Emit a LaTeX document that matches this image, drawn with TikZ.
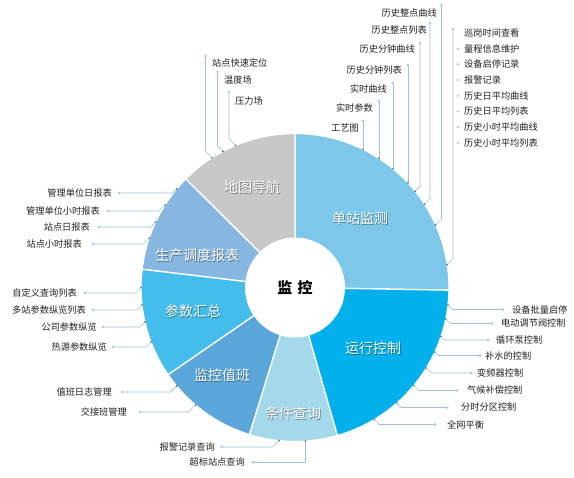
\documentclass[tikz,border=0pt]{standalone}
\usepackage{fontspec}
\setmainfont{Noto Sans CJK SC}
\definecolor{cA}{HTML}{7DC7EA}
\definecolor{cB}{HTML}{C8C8C8}
\definecolor{cC}{HTML}{86B7E0}
\definecolor{cD}{HTML}{45BDEC}
\definecolor{cE}{HTML}{5BA7DA}
\definecolor{cF}{HTML}{A4D8EB}
\definecolor{cG}{HTML}{02B1EC}
\definecolor{leadc}{HTML}{9EC3D6}
\definecolor{dotc}{HTML}{B3D0E0}
\definecolor{cdot}{HTML}{55677A}
\definecolor{txtc}{HTML}{222222}
\newcommand\ldr[4]{%
  \coordinate (#1d) at (#2); \coordinate (#1b) at (#3); \coordinate (#1c) at (#4);
  \draw[lead] (#1d) -- (#1b) -- (#1c);
  \fill[dotc] (#1d) circle[radius=1.6];
  \fill[cdot] (#1c) circle[radius=0.9];}
\newcommand\segment[3]{%
  \filldraw[seg, fill=#1] (O) -- ([shift={(-#2:154)}]O) arc[start angle=-#2, end angle=-#3, radius=154] -- cycle;}
\newcommand\seglabel[3]{%
  \node[segshadow] (#1s) at ([shift={(0.9,0.9)}]#2) {#3};
  \node[segtxt] (#1) at (#2) {#3};}
\begin{document}
\begin{tikzpicture}[x=1pt,y=-1pt,
  lead/.style={draw=leadc, line width=0.6pt},
  lbl/.style={font=\fontsize{9.2}{10}\selectfont, text=txtc, inner sep=0pt},
  seg/.style={draw=white, line width=1.3pt},
  segtxt/.style={font=\fontsize{14}{15}\selectfont, text=white, inner sep=0pt},
  segshadow/.style={font=\fontsize{14}{15}\selectfont, text=black, opacity=0.4, inner sep=0pt}]
\useasboundingbox (0,0) rectangle (574,478);
\fill[white] (0,0) rectangle (574,478);
\coordinate (O) at (295,287.5);
% pie
\segment{cA}{-1}{90}
\segment{cB}{90}{135.2}
\segment{cC}{135.2}{173.2}
\segment{cD}{173.2}{214.5}
\segment{cE}{214.5}{252.8}
\segment{cF}{252.8}{286}
\segment{cG}{286}{359}
\fill[white] (O) circle[radius=50];
\node[font=\fontsize{15}{16}\selectfont\bfseries, text=black] (center) at (O) {监\hspace{0.35em}控};
\seglabel{sA}{360,218}{单站监测}
\seglabel{sB}{252,187}{地图导航}
\seglabel{sC}{197,255}{生产调度报表}
\seglabel{sD}{193,311}{参数汇总}
\seglabel{sE}{222,375}{监控值班}
\seglabel{sF}{293,413}{条件查询}
\seglabel{sG}{373,348}{运行控制}
% top group
\ldr{a1}{441.5,5}{441.5,219}{435.7,224.9}
\ldr{a2}{430,23}{430,198.5}{424.4,204.1}
\ldr{a3}{420,43}{420,186.4}{415.2,191.2}
\ldr{a4}{408,65}{408,182.9}{408,182.9}
\ldr{a5}{393,83}{393,168.7}{393,168.7}
\ldr{a6}{379,101}{379,158.4}{379,158.4}
\ldr{a7}{363,121}{363,149.3}{363,149.3}
\node[lbl, anchor=east] (a1t) at (437,13) {历史整点曲线};
\node[lbl, anchor=east] (a2t) at (427,30) {历史整点列表};
\node[lbl, anchor=east] (a3t) at (415,49) {历史分钟曲线};
\node[lbl, anchor=east] (a4t) at (402,70) {历史分钟列表};
\node[lbl, anchor=east] (a5t) at (387,89) {实时曲线};
\node[lbl, anchor=east] (a6t) at (373,108) {实时参数};
\node[lbl, anchor=east] (a7t) at (359,128) {工艺图};
% right list
\ldr{r}{453,29}{453,258.8}{447.3,264.5}
\node[lbl, anchor=west] (r1) at (464,33) {巡岗时间查看};
\node[lbl, anchor=west] (r2) at (464,48.7) {量程信息维护};
\node[lbl, anchor=west] (r3) at (464,64.4) {设备启停记录};
\node[lbl, anchor=west] (r4) at (464,80.1) {报警记录};
\node[lbl, anchor=west] (r5) at (464,95.8) {历史日平均曲线};
\node[lbl, anchor=west] (r6) at (464,111.5) {历史日平均列表};
\node[lbl, anchor=west] (r7) at (464,127.2) {历史小时平均曲线};
\node[lbl, anchor=west] (r8) at (464,143) {历史小时平均列表};
\foreach \yy in {48.7,64.4,80.1,95.8,111.5,127.2,143} {\fill[dotc] (458,\yy) circle[radius=1.4];}
% map group
\ldr{m1}{205.5,56}{205.5,151.3}{212,157.8}
\ldr{m2}{217.5,72}{217.5,145.9}{223,151.4}
\ldr{m3}{229,92}{229,139}{235.5,145.5}
\node[lbl, anchor=west] (m1t) at (212,63) {站点快速定位};
\node[lbl, anchor=west] (m2t) at (224,80) {温度场};
\node[lbl, anchor=west] (m3t) at (235,101) {压力场};
% report group
\ldr{p1}{119,193}{172.6,193}{176.6,189}
\ldr{p2}{108,211}{159,211}{165,205}
\ldr{p3}{99,227}{150.6,227}{155.6,222}
\ldr{p4}{93,244}{143.2,244}{149.2,238}
\node[lbl, anchor=east] (p1t) at (112,193) {管理单位日报表};
\node[lbl, anchor=east] (p2t) at (100,211) {管理单位小时报表};
\node[lbl, anchor=east] (p3t) at (90,227) {站点日报表};
\node[lbl, anchor=east] (p4t) at (82,244) {站点小时报表};
% parameter group
\ldr{q1}{85,293}{135.5,293}{141,287.5}
\ldr{q2}{93,310}{137,310}{142,305}
\ldr{q3}{103,327}{139.9,327}{144.9,322}
\ldr{q4}{113,347}{146,347}{151,342}
\node[lbl, anchor=east] (q1t) at (77,293) {自定义查询列表};
\node[lbl, anchor=east] (q2t) at (86,310) {多站参数纵览列表};
\node[lbl, anchor=east] (q3t) at (97,327) {公司参数纵览};
\node[lbl, anchor=east] (q4t) at (107,347) {热源参数纵览};
% duty group
\ldr{v1}{122,392}{170.6,392}{176.6,386}
\ldr{v2}{140,412}{188.5,412}{195.5,405}
\node[lbl, anchor=east] (v1t) at (112,392) {值班日志管理};
\node[lbl, anchor=east] (v2t) at (127,412) {交接班管理};
% query group
\ldr{c1}{222,447}{272.5,447}{279,440.7}
\ldr{c2}{253,462}{305.5,462}{305.5,441.1}
\node[lbl, anchor=east] (c1t) at (215,447) {报警记录查询};
\node[lbl, anchor=east] (c2t) at (245,462) {超标站点查询};
% control group
\ldr{k1}{503,309.5}{452.5,309.5}{448,305}
\ldr{k2}{492,323.5}{450.2,323.5}{445.7,319}
\ldr{k3}{488,340}{444.5,340}{441,336.5}
\ldr{k4}{480,355.5}{438.3,355.5}{434.8,352}
\ldr{k5}{471,373}{431.3,373}{426.3,368}
\ldr{k6}{457,390.5}{418.8,390.5}{413.8,385.5}
\ldr{k7}{447,407.5}{401.4,407.5}{396.9,403}
\ldr{k8}{435,424.5}{379.3,424.5}{374.3,419.5}
\node[lbl, anchor=west] (k1t) at (512,309.5) {设备批量启停};
\node[lbl, anchor=west] (k2t) at (501,323.5) {电动调节阀控制};
\node[lbl, anchor=west] (k3t) at (496,340) {循环泵控制};
\node[lbl, anchor=west] (k4t) at (485,355.5) {补水的控制};
\node[lbl, anchor=west] (k5t) at (477,373) {变频器控制};
\node[lbl, anchor=west] (k6t) at (467,390.5) {气候补偿控制};
\node[lbl, anchor=west] (k7t) at (461,407.5) {分时分区控制};
\node[lbl, anchor=west] (k8t) at (447,424.5) {全网平衡};
\end{tikzpicture}
\end{document}
